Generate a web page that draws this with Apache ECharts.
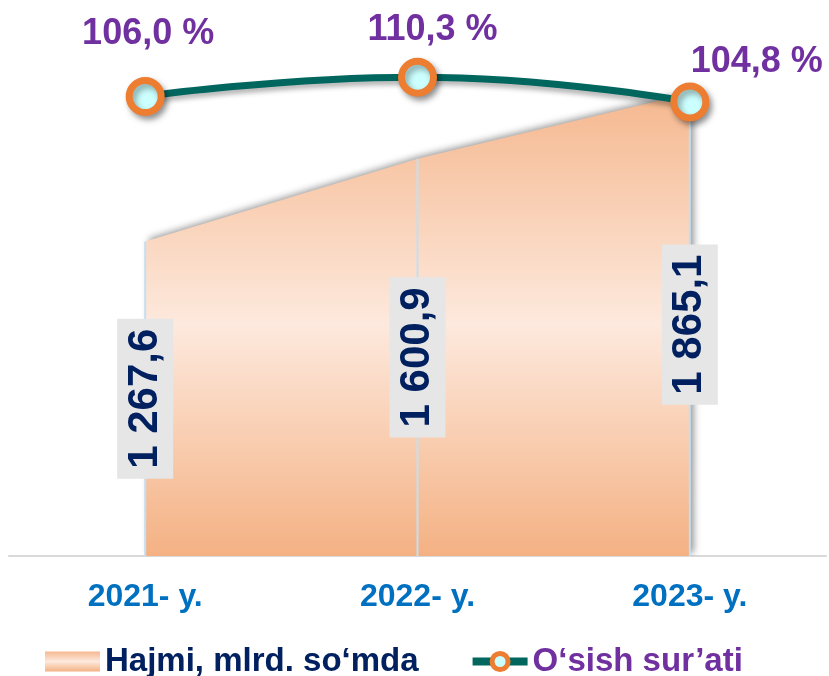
<!DOCTYPE html>
<html lang="uz">
<head>
    <meta charset="UTF-8">
    <title>Hajmi va o'sish sur'ati</title>
    <script src="https://cdn.jsdelivr.net/npm/echarts@6/dist/echarts.min.js"></script>
</head>
<style>
    html, body {
        margin: 0;
        height: 100%;
        background: #fff;
    }
</style>
<body>
<div id="main" style="width: 829px;height:676px"></div>
<script type="text/javascript">
    var years = ['2021- y.', '2022- y.', '2023- y.'];
    var hajmi = [1267.6, 1600.9, 1865.1];       // mlrd. so'm
    var osish = [106.0, 110.3, 104.8];          // %
    // where each percent label sits relative to its point
    var osishLabelOffset = [[3, -62], [15, -47], [67, -40]];

    var FONT = 'Liberation Sans, Arial, sans-serif';

    function fmt(v) {
        var s = v.toFixed(1).split('.');
        return s[0].replace(/\B(?=(\d{3})+(?!\d))/g, ' ') + ',' + s[1];
    }

    var areaFill = new echarts.graphic.LinearGradient(0, 0, 0, 1, [
        {offset: 0, color: '#f5b88f'},
        {offset: 0.5, color: '#fde9dd'},
        {offset: 1, color: '#f4b183'}
    ]);

    var myChart = echarts.init(document.getElementById('main'));
    var option = {
        animation: false,
        grid: {left: 9, right: 3, top: 56, bottom: 120},
        legend: {
            left: 40,
            top: 640,
            itemWidth: 55,
            itemHeight: 20,
            itemGap: 50,
            data: [
                {name: 'Hajmi, mlrd. so‘mda', icon: 'rect', itemStyle: {color: areaFill}, textStyle: {color: '#002060'}},
                {
                    name: 'O‘sish sur’ati',
                    lineStyle: {width: 8, color: '#00665e'},
                    itemStyle: {borderWidth: 5},
                    textStyle: {color: '#7030a0'}
                }
            ],
            textStyle: {fontFamily: FONT, fontWeight: 'bold', fontSize: 33}
        },
        xAxis: {
            type: 'category',
            data: years,
            boundaryGap: true,
            axisLine: {lineStyle: {color: '#d9d9d9', width: 2}},
            axisTick: {show: false},
            axisLabel: {color: '#0070c0', fontFamily: FONT, fontWeight: 'bold', fontSize: 32, margin: 25}
        },
        yAxis: [
            {type: 'value', min: 0, max: 2015, show: false, splitLine: {show: false}},
            {type: 'value', min: 4, max: 115, show: false, splitLine: {show: false}}
        ],
        series: [
            {
                name: 'Hajmi, mlrd. so‘mda',
                type: 'line',
                data: hajmi,
                symbol: 'none',
                lineStyle: {width: 0},
                areaStyle: {
                    color: areaFill,
                    opacity: 1,
                    shadowColor: 'rgba(0,0,0,0.4)',
                    shadowBlur: 7,
                    shadowOffsetX: 4,
                    shadowOffsetY: -3
                },
                z: 1
            },
            {
                // thin drop lines + value boxes
                name: 'hajmiLabel',
                type: 'bar',
                data: hajmi,
                barWidth: 2,
                itemStyle: {color: '#c5dff0'},
                label: {
                    show: true,
                    position: 'inside',
                    rotate: 90,
                    formatter: function (p) { return fmt(p.value); },
                    color: '#002060',
                    fontFamily: FONT,
                    fontWeight: 'bold',
                    fontSize: 42,
                    lineHeight: 42,
                    backgroundColor: '#e6e6e6',
                    padding: [7, 10]
                },
                z: 2
            },
            {
                name: 'O‘sish sur’ati',
                type: 'line',
                yAxisIndex: 1,
                smooth: true,
                data: osish.map(function (v, i) {
                    return {value: v, label: {offset: osishLabelOffset[i]}};
                }),
                symbol: 'circle',
                symbolSize: 32,
                lineStyle: {
                    color: '#00665e',
                    width: 7,
                    shadowColor: 'rgba(0,0,0,0.3)',
                    shadowBlur: 5,
                    shadowOffsetY: 4
                },
                itemStyle: {
                    color: '#ccffff',
                    borderColor: '#ed7d31',
                    borderWidth: 7,
                    shadowColor: 'rgba(0,0,0,0.35)',
                    shadowBlur: 6,
                    shadowOffsetX: 3,
                    shadowOffsetY: 4
                },
                label: {
                    show: true,
                    position: 'inside',
                    formatter: function (p) { return fmt(p.value) + ' %'; },
                    color: '#7030a0',
                    fontFamily: FONT,
                    fontWeight: 'bold',
                    fontSize: 36
                },
                z: 5
            }
        ]
    };
    myChart.setOption(option);
</script>
</body>
</html>
